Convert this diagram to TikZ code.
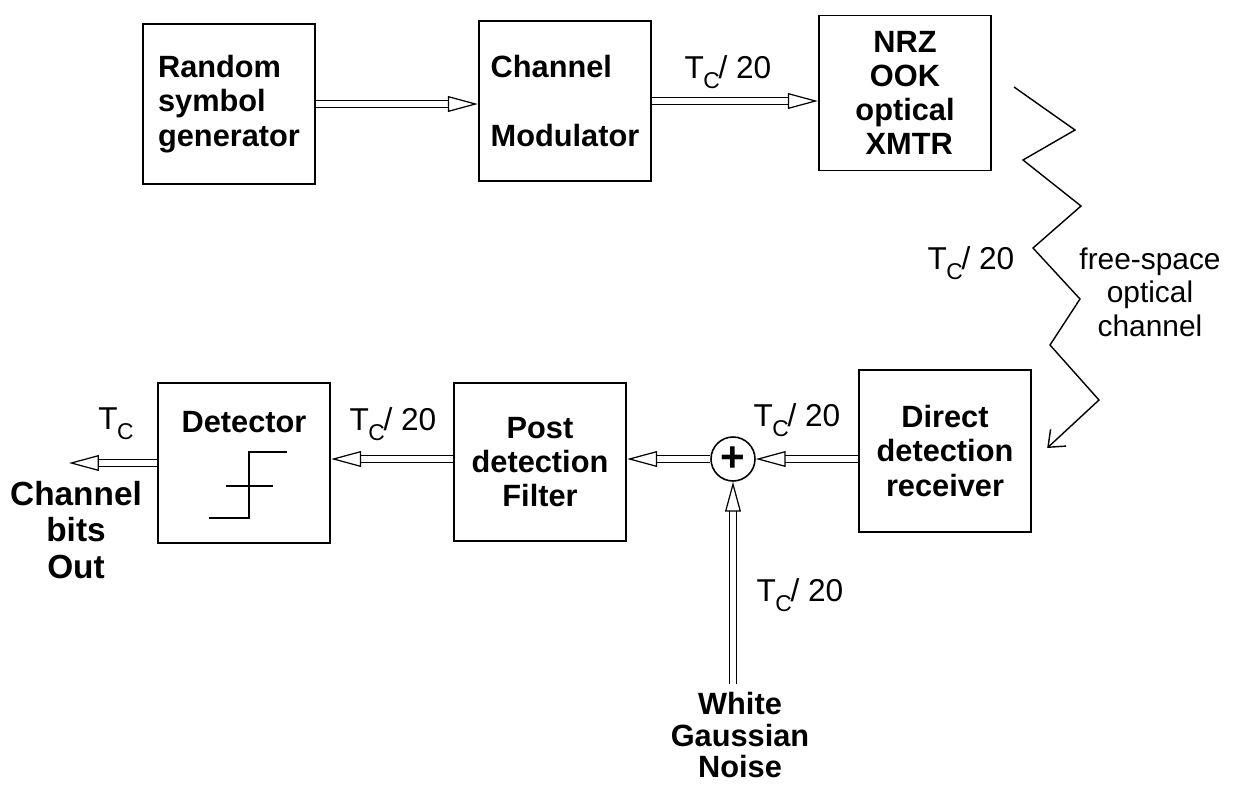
\documentclass[tikz,border=0pt]{standalone}
\usepackage{fontspec}
\setmainfont{Liberation Sans}
\usetikzlibrary{arrows.meta}
\newcommand{\Tc}{T\kern-0.3pt\raisebox{-0.6ex}{\fontsize{13}{13}\selectfont C}}
\newcommand{\Tcrate}{\Tc\kern-0.8pt/ 20}

\begin{document}
\begin{tikzpicture}[x=0.02cm,y=-0.02cm,
  blk/.style={draw, line width=1.1pt, inner sep=0pt, minimum width=3.45cm, minimum height=3.2cm, font=\bfseries\fontsize{17.5}{19.5}\selectfont},
  rate/.style={font=\fontsize{18}{20}\selectfont, inner sep=0pt},
  bigtxt/.style={font=\bfseries\fontsize{19}{21}\selectfont, align=center, inner sep=0pt},
  dbl/.style={double, double distance=3pt, line width=0.7pt, -{Triangle[open, length=17pt, width=9pt, line width=0.7pt]}},
  beam/.style={line width=0.8pt, -{Straight Barb[length=8pt, width=13pt]}}]
\useasboundingbox (0,0) rectangle (1238,785);

% blocks
\node[blk, align=left] (rsg) at (229,104) {Random\\symbol\\generator};
\node[blk, align=left] (mod) at (565,101) {Channel\\[0.68cm]Modulator};
\node[blk, align=center, minimum height=3.1cm] (xmtr) at (905,93) {NRZ\\OOK\\optical\\\ XMTR};
\node[blk, align=center, minimum height=3.25cm] (rcv) at (945,451) {Direct\\detection\\receiver};
\node[blk, align=center, minimum height=3.15cm] (flt) at (540,462) {Post\\detection\\Filter};
\node[blk, label={[font=\bfseries\fontsize{17.5}{19.5}\selectfont, anchor=center, yshift=-0.8cm]north:Detector}] (det) at (244,463) {};
\node[draw, circle, line width=0.9pt, minimum size=0.88cm, inner sep=0pt, font=\bfseries\fontsize{24}{24}\selectfont] (sum) at (733,459) {+};

% step inside the detector
\begin{scope}[shift={(det.center)}, line width=0.9pt]
\draw (-35,55) -- (5,55) -- (5,-11) -- (43,-11);
\draw (-18,23) -- (29,23);
\end{scope}

% labels
\node[rate] (r1) at (728,72) {\Tcrate};
\node[rate] (r2) at (971,263) {\Tcrate};
\node[rate] (r3) at (797,420) {\Tcrate};
\node[rate] (r4) at (393,424) {\Tcrate};
\node[rate] (r5) at (800,595) {\Tcrate};
\node[rate] (r6) at (116,424) {\Tc};
\node[rate, font=\fontsize{17}{19}\selectfont, align=center] (fso) at (1150,292) {free-space\\optical\\channel};
\node[bigtxt] (cbo) at (76,530) {Channel\\bits\\Out};
\node[bigtxt, font=\bfseries\fontsize{17.5}{18}\selectfont] (wgn) at (740,735) {White\\Gaussian\\Noise};

% free ends
\coordinate (out) at (69,463);
\coordinate (nz) at (733,684);
\coordinate (zz) at (1014,87);

% connectors
\draw[dbl] (rsg.east) -- (rsg.east -| mod.west);
\draw[dbl] (mod.east) -- (mod.east -| xmtr.west);
\draw[beam] (zz) -- (1075,130) -- (1023,160) -- (1081,206) -- (1033,248) -- (1080,299) -- (1050,345) -- (1099,400) -- ([shift={(15,-3)}]rcv.east);
\draw[dbl] (rcv.west |- sum) -- (sum.east);
\draw[dbl] (sum.west) -- (sum -| flt.east);
\draw[dbl] (sum -| flt.west) -- (sum -| det.east);
\draw[dbl] (det.west) -- (out);
\draw[dbl] (nz) -- (sum.south);
\end{tikzpicture}
\end{document}
